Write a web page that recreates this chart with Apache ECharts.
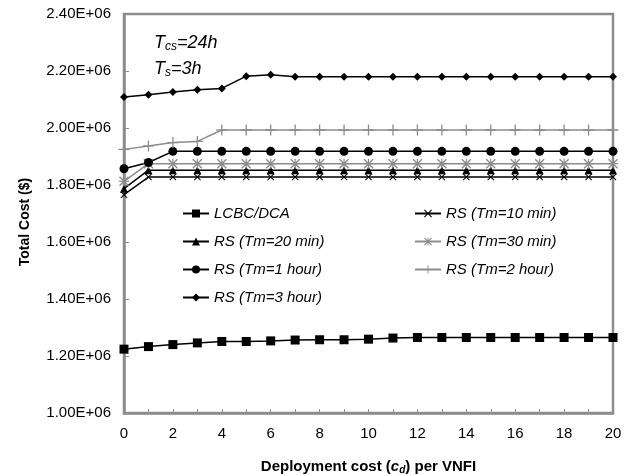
<!DOCTYPE html>
<html>
<head>
<meta charset="utf-8">
<script src="https://cdn.jsdelivr.net/npm/echarts@6/dist/echarts.min.js"></script>
<style>
    html, body { margin: 0; padding: 0; background: #fff; }
    #chart { width: 633px; height: 475px; }
</style>
</head>
<body>
<div id="chart"></div>
<script>
const xs = ['0', '1', '2', '3', '4', '5', '6', '7', '8', '9', '10', '11', '12', '13', '14', '15', '16', '17', '18', '19', '20']

const lcbc = [1.224e6, 1.233e6, 1.240e6, 1.246e6, 1.251e6, 1.251e6, 1.253e6, 1.256e6, 1.257e6, 1.257e6, 1.259e6, 1.263e6, 1.265e6, 1.265e6, 1.265e6, 1.265e6, 1.265e6, 1.265e6, 1.265e6, 1.265e6, 1.265e6]
const rs10min = [1.766e6, 1.828e6, 1.828e6, 1.828e6, 1.828e6, 1.828e6, 1.828e6, 1.828e6, 1.828e6, 1.828e6, 1.828e6, 1.828e6, 1.828e6, 1.828e6, 1.828e6, 1.828e6, 1.828e6, 1.828e6, 1.828e6, 1.828e6, 1.828e6]
const rs20min = [1.787e6, 1.852e6, 1.852e6, 1.852e6, 1.852e6, 1.852e6, 1.852e6, 1.852e6, 1.852e6, 1.852e6, 1.852e6, 1.852e6, 1.852e6, 1.852e6, 1.852e6, 1.852e6, 1.852e6, 1.852e6, 1.852e6, 1.852e6, 1.852e6]
const rs30min = [1.813e6, 1.875e6, 1.875e6, 1.875e6, 1.875e6, 1.875e6, 1.875e6, 1.875e6, 1.875e6, 1.875e6, 1.875e6, 1.875e6, 1.875e6, 1.875e6, 1.875e6, 1.875e6, 1.875e6, 1.875e6, 1.875e6, 1.875e6, 1.875e6]
const rs1hour = [1.857e6, 1.879e6, 1.918e6, 1.918e6, 1.918e6, 1.918e6, 1.918e6, 1.918e6, 1.918e6, 1.918e6, 1.918e6, 1.918e6, 1.918e6, 1.918e6, 1.918e6, 1.918e6, 1.918e6, 1.918e6, 1.918e6, 1.918e6, 1.918e6]
const rs2hour = [1.925e6, 1.937e6, 1.949e6, 1.953e6, 1.993e6, 1.993e6, 1.993e6, 1.993e6, 1.993e6, 1.993e6, 1.993e6, 1.993e6, 1.993e6, 1.993e6, 1.993e6, 1.993e6, 1.993e6, 1.993e6, 1.993e6, 1.993e6, 1.993e6]
const rs3hour = [2.109e6, 2.117e6, 2.126e6, 2.134e6, 2.139e6, 2.182e6, 2.187e6, 2.180e6, 2.180e6, 2.180e6, 2.180e6, 2.180e6, 2.180e6, 2.180e6, 2.180e6, 2.180e6, 2.180e6, 2.180e6, 2.180e6, 2.180e6, 2.180e6]

const names = ['LCBC/DCA', 'RS (Tm=10 min)', 'RS (Tm=20 min)', 'RS (Tm=30 min)', 'RS (Tm=1 hour)', 'RS (Tm=2 hour)', 'RS (Tm=3 hour)']

// marker shapes
const crossPath = 'path://M0,1L1,0L5,4L9,0L10,1L6,5L10,9L9,10L5,6L1,10L0,9L4,5Z'
const plusPath = 'path://M4.4,0H5.6V4.4H10V5.6H5.6V10H4.4V5.6H0V4.4H4.4Z'
const starPath = 'path://M0,1L1,0L5,4L9,0L10,1L6,5L10,9L9,10L5,6L1,10L0,9L4,5Z M4.4,0H5.6V10H4.4Z M0,4.4H10V5.6H0Z'

const font = 'Liberation Sans, Arial, sans-serif'

function makeSeries(name, data, color, symbol, size) {
    return {
        name: name,
        type: 'line',
        data: data,
        symbol: symbol,
        symbolSize: size,
        showSymbol: true,
        animation: false,
        lineStyle: { color: color, width: 1.5 },
        itemStyle: { color: color }
    }
}

const myChart = echarts.init(document.getElementById('chart'))

const legendText = {
    fontFamily: font,
    fontStyle: 'italic',
    fontSize: 15,
    color: '#000'
}

const option = {
    backgroundColor: '#fff',
    title: {
        left: 149,
        top: 25,
        text: '{i|T}{s|cs}{i|=24h}\n{i|T}{s|s}{i|=3h}',
        textStyle: {
            fontWeight: 'normal',
            rich: {
                i: { fontFamily: font, fontStyle: 'italic', fontWeight: 'normal', fontSize: 18, color: '#000', lineHeight: 26 },
                s: { fontFamily: font, fontStyle: 'italic', fontWeight: 'normal', fontSize: 12, color: '#000', padding: [8, 0, 0, 0], lineHeight: 26 }
            }
        }
    },
    graphic: [
        {
            type: 'text',
            x: 25,
            y: 222,
            rotation: Math.PI / 2,
            style: {
                text: 'Total Cost ($)',
                fontFamily: font,
                fontWeight: 'bold',
                fontSize: 14,
                fill: '#000',
                align: 'center',
                verticalAlign: 'middle'
            }
        }
    ],
    legend: [
        {
            orient: 'vertical',
            left: 177,
            top: 201,
            itemWidth: 26,
            itemHeight: 10,
            itemGap: 13,
            textStyle: legendText,
            data: [names[0], names[2], names[4], names[6]]
        },
        {
            orient: 'vertical',
            left: 409,
            top: 201,
            itemWidth: 26,
            itemHeight: 10,
            itemGap: 13,
            textStyle: legendText,
            data: [names[1], names[3], names[5]]
        }
    ],
    grid: {
        left: 124,
        right: 20,
        top: 14,
        bottom: 62,
        outerBoundsMode: 'none',
        show: true,
        borderColor: '#8c8c8c',
        borderWidth: 2.5
    },
    xAxis: {
        type: 'category',
        data: xs,
        boundaryGap: false,
        axisLine: { lineStyle: { color: '#8c8c8c', width: 2.5 } },
        axisTick: { inside: true, length: 4, interval: 0, lineStyle: { color: '#8c8c8c' } },
        axisLabel: {
            interval: 1,
            margin: 13,
            color: '#000',
            fontFamily: font,
            fontSize: 15
        },
        name: '{b|Deployment cost (}{ib|c}{sb|d}{b|) per VNFI}',
        nameLocation: 'middle',
        nameGap: 45,
        nameTextStyle: {
            rich: {
                b: { fontFamily: font, fontWeight: 'bold', fontSize: 15, color: '#000' },
                ib: { fontFamily: font, fontWeight: 'bold', fontStyle: 'italic', fontSize: 15, color: '#000' },
                sb: { fontFamily: font, fontWeight: 'bold', fontStyle: 'italic', fontSize: 10, color: '#000', padding: [7, 0, 0, 0] }
            }
        }
    },
    yAxis: {
        type: 'value',
        min: 1000000,
        max: 2400000,
        interval: 200000,
        axisLine: { show: true, lineStyle: { color: '#8c8c8c', width: 2.5 } },
        axisTick: { show: true, inside: true, length: 5, lineStyle: { color: '#8c8c8c' } },
        splitLine: { show: false },
        axisLabel: {
            margin: 13,
            color: '#000',
            fontFamily: font,
            fontSize: 15,
            formatter: v => (v / 1e6).toFixed(2) + 'E+06'
        }
    },
    series: [
        makeSeries(names[0], lcbc, '#000', 'rect', 9),
        makeSeries(names[1], rs10min, '#000', crossPath, 7),
        makeSeries(names[2], rs20min, '#000', 'triangle', 8),
        makeSeries(names[3], rs30min, '#8c8c8c', starPath, 10),
        makeSeries(names[4], rs1hour, '#000', 'circle', 9),
        makeSeries(names[5], rs2hour, '#8c8c8c', plusPath, 11),
        makeSeries(names[6], rs3hour, '#000', 'diamond', 8)
    ]
}

myChart.setOption(option)
</script>
</body>
</html>
